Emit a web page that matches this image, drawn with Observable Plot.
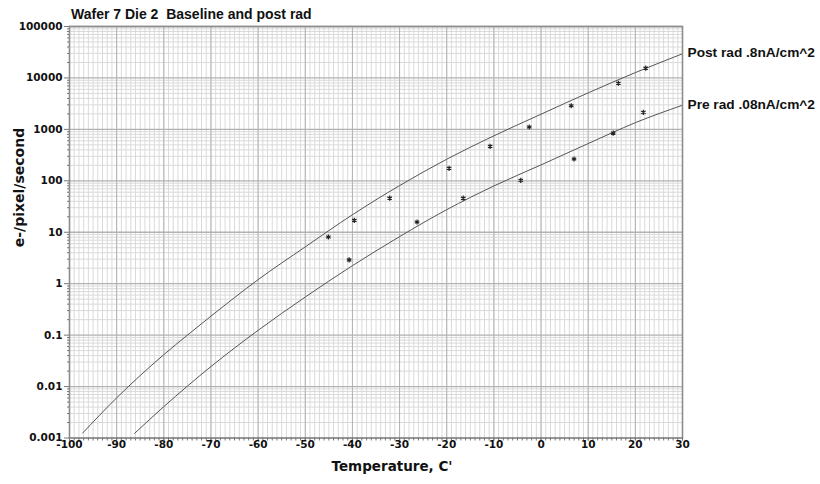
<!DOCTYPE html>
<html><head><meta charset="utf-8">
<script src="https://cdn.jsdelivr.net/npm/d3@7"></script>
<script src="https://cdn.jsdelivr.net/npm/@observablehq/plot@0.6"></script>
<style>
body{margin:0;background:#fff;}
#wrap{position:relative;width:820px;height:484px;}
#title{position:absolute;left:71px;top:6px;font:bold 14px "Liberation Sans",Arial,sans-serif;color:#111;white-space:pre;}
</style></head><body>
<div id="wrap"><div id="chart"></div><div id="title">Wafer 7 Die 2  Baseline and post rad</div></div>
<script>
// Fitted curves (temperature °C, e-/pixel/second)
const postCurveT = [-97.2, -90, -85, -80, -75, -70, -65, -60, -50, -40, -30, -20, -10, 0, 10, 20, 30];
const postCurveV = [0.00125, 0.00603, 0.0164, 0.0417, 0.100, 0.234, 0.537, 1.20, 5.19, 21.9, 80.7, 263, 750, 1970, 5130, 12700, 29500];
const preCurveT = [-86.2, -80, -75, -70, -65, -60, -50, -40, -30, -20, -10, 0, 10, 20, 30];
const preCurveV = [0.00123, 0.00407, 0.0102, 0.0245, 0.0562, 0.124, 0.55, 2.24, 8.22, 27.5, 79.4, 204, 530, 1350, 2950];
// Measured points (asterisks)
const postPtT = [-45.1, -39.6, -32.1, -19.5, -10.8, -2.5, 6.4, 16.4, 22.2];
const postPtV = [8.1, 17, 46, 175, 468, 1110, 2880, 7900, 15500];
const prePtT = [-40.7, -26.3, -16.5, -4.3, 7.0, 15.3, 21.7];
const prePtV = [2.9, 15.8, 46, 102, 265, 847, 2140];
// Series labels
const seriesLabels = ["Post rad .8nA/cm^2", "Pre rad .08nA/cm^2"];
// Ticks
const xMajor = [-100, -90, -80, -70, -60, -50, -40, -30, -20, -10, 0, 10, 20, 30];
const xLabels = ["-100", "-90", "-80", "-70", "-60", "-50", "-40", "-30", "-20", "-10", "0", "10", "20", "30"];
const xMinor = d3.range(-100, 31, 1);
const yMajor = [0.001, 0.01, 0.1, 1, 10, 100, 1000, 10000, 100000];
const yLabels = ["0.001", "0.01", "0.1", "1", "10", "100", "1000", "10000", "100000"];
const yMinor = yMajor.slice(0, -1).flatMap(d => [2,3,4,5,6,7,8,9].map(k => +(d * k).toPrecision(3)));

const postCurve = postCurveT.map((t, i) => ({t, v: postCurveV[i]}));
const preCurve = preCurveT.map((t, i) => ({t, v: preCurveV[i]}));
const points = [
  ...postPtT.map((t, i) => ({t, v: postPtV[i]})),
  ...prePtT.map((t, i) => ({t, v: prePtV[i]}))
];
const ends = [
  {t: postCurveT.at(-1), v: postCurveV.at(-1), label: seriesLabels[0]},
  {t: preCurveT.at(-1), v: preCurveV.at(-1), label: seriesLabels[1]}
];

const chart = Plot.plot({
  width: 820, height: 484,
  marginLeft: 69, marginRight: 138, marginTop: 26, marginBottom: 46.5,
  style: {fontFamily: "'DejaVu Sans', Verdana, sans-serif", fontWeight: "bold", fontSize: "10.5px", color: "#111", background: "white"},
  x: {domain: [-100, 30], label: null},
  y: {type: "log", domain: [0.001, 100000], label: null},
  marks: [
    Plot.gridX(xMinor, {stroke: "#dadada", strokeOpacity: 1}),
    Plot.gridY(yMinor, {stroke: "#dadada", strokeOpacity: 1}),
    Plot.gridX(xMajor, {stroke: "#b2b2b2", strokeOpacity: 1}),
    Plot.gridY(yMajor, {stroke: "#b2b2b2", strokeOpacity: 1, strokeWidth: 1.3}),
    Plot.line(postCurve, {x: "t", y: "v", curve: "monotone-x", stroke: "#555", strokeWidth: 1}),
    Plot.line(preCurve, {x: "t", y: "v", curve: "monotone-x", stroke: "#555", strokeWidth: 1}),
    Plot.dot(points, {x: "t", y: "v", symbol: "asterisk", r: 2.4, stroke: "#222", strokeWidth: 1.2}),
    Plot.frame({stroke: "#8c8c8c", strokeWidth: 1.6}),
    Plot.axisX(xMinor, {tickSize: 3, tickFormat: () => "", label: null, stroke: "#777"}),
    Plot.axisX(xMajor, {tickSize: 3, tickPadding: 0, tickFormat: d => xLabels[xMajor.indexOf(d)], label: null, stroke: "#777"}),
    Plot.axisY(yMinor, {tickSize: 2, tickFormat: () => "", label: null, stroke: "#777"}),
    Plot.axisY(yMajor, {tickSize: 5, tickPadding: 2, tickFormat: d => yLabels[yMajor.indexOf(d)], label: null, stroke: "#777"}),
    Plot.text(ends, {x: "t", y: "v", text: "label", textAnchor: "start", dx: 5, dy: -1, fontFamily: "'Liberation Sans', Arial, sans-serif", fontSize: 13.7, fontWeight: "bold", fill: "#111"}),
    Plot.text(["Temperature, C'"], {frameAnchor: "bottom", dx: 16, dy: 32.5, fontSize: 13.5, fontWeight: "bold", fill: "#111"}),
    Plot.text(["e-/pixel/second"], {frameAnchor: "left", rotate: -90, dx: -50, dy: 15, fontSize: 14, fontWeight: "bold", fill: "#111"})
  ]
});
document.getElementById("chart").append(chart);
</script>
</body></html>
